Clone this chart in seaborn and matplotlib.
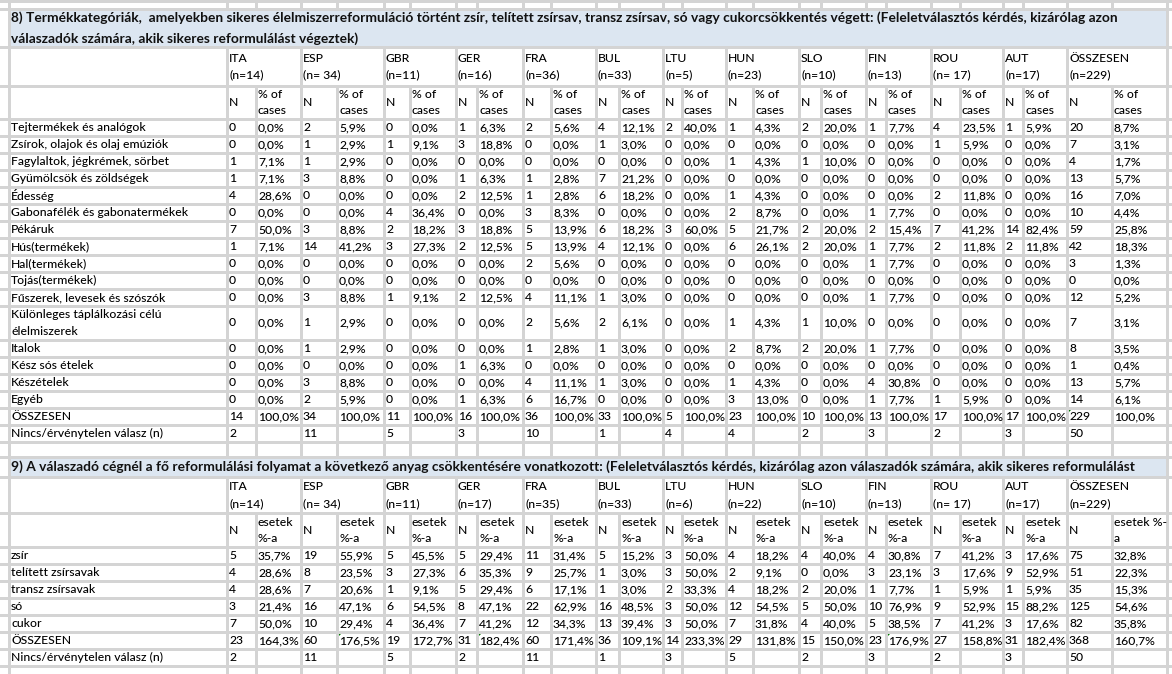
import numpy as np
import pandas as pd
import seaborn as sns
import matplotlib.pyplot as plt
from matplotlib.patches import Rectangle, Polygon

# Excel-szerű táblázat újrarajzolása (két kérdés: 8 és 9)
sns.set_style("white")
plt.rcParams['font.family'] = ['Lato', 'DejaVu Sans']

#%% Adatok - 8. kérdés
orszagok = ["ITA", "ESP", "GBR", "GER", "FRA", "BUL", "LTU", "HUN", "SLO", "FIN", "ROU", "AUT", "ÖSSZESEN"]
n_8 = ["(n=14)", "(n= 34)", "(n=11)", "(n=16)", "(n=36)", "(n=33)", "(n=5)", "(n=23)", "(n=10)", "(n=13)", "(n= 17)", "(n=17)", "(n=229)"]
n_9 = ["(n=14)", "(n= 34)", "(n=11)", "(n=17)", "(n=35)", "(n=33)", "(n=6)", "(n=22)", "(n=10)", "(n=13)", "(n= 17)", "(n=17)", "(n=229)"]

cim_8 = ["8) Termékkategóriák,  amelyekben sikeres élelmiszerreformuláció történt zsír, telített zsírsav, transz zsírsav, só vagy cukorcsökkentés végett: (Feleletválasztós kérdés, kizárólag azon",
         "válaszadók számára, akik sikeres reformulálást végeztek)"]
cim_9 = "9) A válaszadó cégnél a fő reformulálási folyamat a következő anyag csökkentésére vonatkozott: (Feleletválasztós kérdés, kizárólag azon válaszadók számára, akik sikeres reformulálást"

kategoriak_8 = ["Tejtermékek és analógok", "Zsírok, olajok és olaj emúziók", "Fagylaltok, jégkrémek, sörbet",
                "Gyümölcsök és zöldségek", "Édesség", "Gabonafélék és gabonatermékek", "Pékáruk", "Hús(termékek)",
                "Hal(termékek)", "Tojás(termékek)", "Fűszerek, levesek és szószók",
                "Különleges táplálkozási célú\nélelmiszerek", "Italok", "Kész sós ételek", "Készételek", "Egyéb", "ÖSSZESEN"]

tej_n = [0, 2, 0, 1, 2, 4, 2, 1, 2, 1, 4, 1, 20]
tej_pct = [0.0, 5.9, 0.0, 6.3, 5.6, 12.1, 40.0, 4.3, 20.0, 7.7, 23.5, 5.9, 8.7]
zsirok_n = [0, 1, 1, 3, 0, 1, 0, 0, 0, 0, 1, 0, 7]
zsirok_pct = [0.0, 2.9, 9.1, 18.8, 0.0, 3.0, 0.0, 0.0, 0.0, 0.0, 5.9, 0.0, 3.1]
fagyi_n = [1, 1, 0, 0, 0, 0, 0, 1, 1, 0, 0, 0, 4]
fagyi_pct = [7.1, 2.9, 0.0, 0.0, 0.0, 0.0, 0.0, 4.3, 10.0, 0.0, 0.0, 0.0, 1.7]
gyumolcs_n = [1, 3, 0, 1, 1, 7, 0, 0, 0, 0, 0, 0, 13]
gyumolcs_pct = [7.1, 8.8, 0.0, 6.3, 2.8, 21.2, 0.0, 0.0, 0.0, 0.0, 0.0, 0.0, 5.7]
edesseg_n = [4, 0, 0, 2, 1, 6, 0, 1, 0, 0, 2, 0, 16]
edesseg_pct = [28.6, 0.0, 0.0, 12.5, 2.8, 18.2, 0.0, 4.3, 0.0, 0.0, 11.8, 0.0, 7.0]
gabona_n = [0, 0, 4, 0, 3, 0, 0, 2, 0, 1, 0, 0, 10]
gabona_pct = [0.0, 0.0, 36.4, 0.0, 8.3, 0.0, 0.0, 8.7, 0.0, 7.7, 0.0, 0.0, 4.4]
pek_n = [7, 3, 2, 3, 5, 6, 3, 5, 2, 2, 7, 14, 59]
pek_pct = [50.0, 8.8, 18.2, 18.8, 13.9, 18.2, 60.0, 21.7, 20.0, 15.4, 41.2, 82.4, 25.8]
hus_n = [1, 14, 3, 2, 5, 4, 0, 6, 2, 1, 2, 2, 42]
hus_pct = [7.1, 41.2, 27.3, 12.5, 13.9, 12.1, 0.0, 26.1, 20.0, 7.7, 11.8, 11.8, 18.3]
hal_n = [0, 0, 0, 0, 2, 0, 0, 0, 0, 1, 0, 0, 3]
hal_pct = [0.0, 0.0, 0.0, 0.0, 5.6, 0.0, 0.0, 0.0, 0.0, 7.7, 0.0, 0.0, 1.3]
tojas_n = [0, 0, 0, 0, 0, 0, 0, 0, 0, 0, 0, 0, 0]
tojas_pct = [0.0, 0.0, 0.0, 0.0, 0.0, 0.0, 0.0, 0.0, 0.0, 0.0, 0.0, 0.0, 0.0]
fuszer_n = [0, 3, 1, 2, 4, 1, 0, 0, 0, 1, 0, 0, 12]
fuszer_pct = [0.0, 8.8, 9.1, 12.5, 11.1, 3.0, 0.0, 0.0, 0.0, 7.7, 0.0, 0.0, 5.2]
kulonleges_n = [0, 1, 0, 0, 2, 2, 0, 1, 1, 0, 0, 0, 7]
kulonleges_pct = [0.0, 2.9, 0.0, 0.0, 5.6, 6.1, 0.0, 4.3, 10.0, 0.0, 0.0, 0.0, 3.1]
ital_n = [0, 1, 0, 0, 1, 1, 0, 2, 2, 1, 0, 0, 8]
ital_pct = [0.0, 2.9, 0.0, 0.0, 2.8, 3.0, 0.0, 8.7, 20.0, 7.7, 0.0, 0.0, 3.5]
sos_n = [0, 0, 0, 1, 0, 0, 0, 0, 0, 0, 0, 0, 1]
sos_pct = [0.0, 0.0, 0.0, 6.3, 0.0, 0.0, 0.0, 0.0, 0.0, 0.0, 0.0, 0.0, 0.4]
keszetel_n = [0, 3, 0, 0, 4, 1, 0, 1, 0, 4, 0, 0, 13]
keszetel_pct = [0.0, 8.8, 0.0, 0.0, 11.1, 3.0, 0.0, 4.3, 0.0, 30.8, 0.0, 0.0, 5.7]
egyeb_n = [0, 2, 0, 1, 6, 0, 0, 3, 0, 1, 1, 0, 14]
egyeb_pct = [0.0, 5.9, 0.0, 6.3, 16.7, 0.0, 0.0, 13.0, 0.0, 7.7, 5.9, 0.0, 6.1]
osszes8_n = [14, 34, 11, 16, 36, 33, 5, 23, 10, 13, 17, 17, 229]
osszes8_pct = [100.0] * 13
nincs8_n = [2, 11, 5, 3, 10, 1, 4, 4, 2, 3, 2, 3, 50]

#%% Adatok - 9. kérdés
anyagok_9 = ["zsír", "telített zsírsavak", "transz zsírsavak", "só", "cukor", "ÖSSZESEN"]
zsir_n = [5, 19, 5, 5, 11, 5, 3, 4, 4, 4, 7, 3, 75]
zsir_pct = [35.7, 55.9, 45.5, 29.4, 31.4, 15.2, 50.0, 18.2, 40.0, 30.8, 41.2, 17.6, 32.8]
telitett_n = [4, 8, 3, 6, 9, 1, 3, 2, 0, 3, 3, 9, 51]
telitett_pct = [28.6, 23.5, 27.3, 35.3, 25.7, 3.0, 50.0, 9.1, 0.0, 23.1, 17.6, 52.9, 22.3]
transz_n = [4, 7, 1, 5, 6, 1, 2, 4, 2, 1, 1, 1, 35]
transz_pct = [28.6, 20.6, 9.1, 29.4, 17.1, 3.0, 33.3, 18.2, 20.0, 7.7, 5.9, 5.9, 15.3]
so_n = [3, 16, 6, 8, 22, 16, 3, 12, 5, 10, 9, 15, 125]
so_pct = [21.4, 47.1, 54.5, 47.1, 62.9, 48.5, 50.0, 54.5, 50.0, 76.9, 52.9, 88.2, 54.6]
cukor_n = [7, 10, 4, 7, 12, 13, 3, 7, 4, 5, 7, 3, 82]
cukor_pct = [50.0, 29.4, 36.4, 41.2, 34.3, 39.4, 50.0, 31.8, 40.0, 38.5, 41.2, 17.6, 35.8]
osszes9_n = [23, 60, 19, 31, 60, 36, 14, 29, 15, 23, 27, 31, 368]
osszes9_pct = [164.3, 176.5, 172.7, 182.4, 171.4, 109.1, 233.3, 131.8, 150.0, 176.9, 158.8, 182.4, 160.7]
nincs9_n = [2, 11, 5, 2, 11, 1, 3, 5, 2, 3, 2, 3, 50]

sorok_8 = [(tej_n, tej_pct), (zsirok_n, zsirok_pct), (fagyi_n, fagyi_pct), (gyumolcs_n, gyumolcs_pct),
           (edesseg_n, edesseg_pct), (gabona_n, gabona_pct), (pek_n, pek_pct), (hus_n, hus_pct),
           (hal_n, hal_pct), (tojas_n, tojas_pct), (fuszer_n, fuszer_pct), (kulonleges_n, kulonleges_pct),
           (ital_n, ital_pct), (sos_n, sos_pct), (keszetel_n, keszetel_pct), (egyeb_n, egyeb_pct),
           (osszes8_n, osszes8_pct)]
sorok_9 = [(zsir_n, zsir_pct), (telitett_n, telitett_pct), (transz_n, transz_pct), (so_n, so_pct),
           (cukor_n, cukor_pct), (osszes9_n, osszes9_pct)]

#%% Elrendezés (pixelben)
W, H = 1172, 674
oszlop_a = 8
n_x = [226, 300, 383, 455, 522, 595, 662, 725, 798, 865, 930, 1002, 1066]
p_x = [255, 336, 409, 476, 550, 618, 681, 752, 820, 885, 959, 1022, 1111]
jobb_szel = 1166
osszes_hatar = sorted([oszlop_a] + n_x + p_x + [jobb_szel])

FS = 8.7
SZURKE = "#D4D4D4"
KEK = "#DCE6F1"

fig = plt.figure(figsize=(W / 100, H / 100), dpi=100)
ax = fig.add_axes([0, 0, 1, 1])
ax.set_xlim(0, W)
ax.set_ylim(H, 0)
ax.axis("off")


def pct(v):
    return f"{v:.1f}".replace(".", ",") + "%"


def cella_szoveg(x, y0, y1, szoveg, lepes=17):
    sorok = szoveg.split("\n")
    yc = (y0 + y1) / 2
    for i, s in enumerate(sorok):
        y = yc + (i - (len(sorok) - 1) / 2) * lepes
        ax.text(x + 3, y, s, ha="left", va="center_baseline", fontsize=FS,
                fontweight="medium", color="black")


def vonalak(y0, y1, xs):
    ax.vlines([x + 0.5 for x in xs], y0, y1, color=SZURKE, lw=0.8, antialiased=False)


def hsor(y):
    ax.hlines(y + 0.5, 0, W, color=SZURKE, lw=0.8, antialiased=False)


def zold_haromszog(x, y):
    ax.add_patch(Polygon([[x + 1, y + 1], [x + 7, y + 1], [x + 1, y + 7]], closed=True,
                         color="#007A00", lw=0))


def tabla(y_cim0, y_cim1, cim_sorok, n_lista, pct_fej, sor_cimkek, sorok, nincs, y_fej1, y_fej2,
          sor_mag, zold):
    # címsáv
    ax.add_patch(Rectangle((oszlop_a + 1, y_cim0 + 1), jobb_szel - oszlop_a - 1, y_cim1 - y_cim0 - 1,
                           color=KEK, lw=0))
    vonalak(y_cim0, y_cim1, [oszlop_a, jobb_szel])
    lepes = 21 if len(cim_sorok) > 1 else 17
    yc = (y_cim0 + y_cim1) / 2
    for i, s in enumerate(cim_sorok):
        ax.text(oszlop_a + 3, yc + (i - (len(cim_sorok) - 1) / 2) * lepes, s, ha="left",
                va="center_baseline", fontsize=FS + 1.2, fontweight="bold", color="#111111")
    # fejléc 1: országok
    vonalak(y_cim1, y_fej1, [oszlop_a] + n_x + [jobb_szel])
    for x, o, n in zip(n_x, orszagok, n_lista):
        cella_szoveg(x, y_cim1, y_fej1, o + "\n" + n)
    # fejléc 2: N / %
    vonalak(y_fej1, y_fej2, osszes_hatar)
    for i, (xn, xp) in enumerate(zip(n_x, p_x)):
        cella_szoveg(xn, y_fej1, y_fej2, "N")
        cella_szoveg(xp, y_fej1, y_fej2, pct_fej[1] if i == len(n_x) - 1 else pct_fej[0], lepes=16)
    # adatsorok
    y = y_fej2
    hatarok = [y_cim0, y_cim1, y_fej1, y_fej2]
    for cimke, (ns, ps), mag in zip(sor_cimkek, sorok, sor_mag):
        y1 = y + mag
        vonalak(y, y1, osszes_hatar)
        cella_szoveg(oszlop_a, y, y1, cimke)
        for xn, xp, nv, pv in zip(n_x, p_x, ns, ps):
            cella_szoveg(xn, y, y1, str(nv))
            cella_szoveg(xp, y, y1, pct(pv))
        hatarok.append(y1)
        y = y1
    y1 = y + 17
    vonalak(y, y1, osszes_hatar)
    cella_szoveg(oszlop_a, y, y1, "Nincs/érvénytelen válasz (n)")
    for xn, nv in zip(n_x, nincs):
        cella_szoveg(xn, y, y1, str(nv))
    hatarok.append(y1)
    for h in hatarok:
        hsor(h)
    # zöld hibajelzők az ÖSSZESEN sorban
    osszes_y = hatarok[-3]
    for xx in zold:
        zold_haromszog(xx, osszes_y)
    return y1


# felső üres sor
hsor(0)
vonalak(0, 8, osszes_hatar)

mag_8 = [17] * 11 + [34] + [17] * 5
veg = tabla(8, 46, cim_8, n_8, ["% of\ncases", "% of\ncases"], kategoriak_8, sorok_8, nincs8_n,
            85, 118, mag_8, [n_x[-1]])

# üres sor a két tábla között
vonalak(veg, 456, osszes_hatar)

mag_9 = [17] * 6
veg2 = tabla(456, 476, [cim_9], n_9, ["esetek\n%-a", "esetek %-\na"], anyagok_9, sorok_9, nincs9_n,
             512, 546, mag_9, [p_x[1], p_x[3], p_x[9]])

vonalak(veg2, H, osszes_hatar)
hsor(veg2 + 17)

plt.savefig("out.png", dpi=100)
